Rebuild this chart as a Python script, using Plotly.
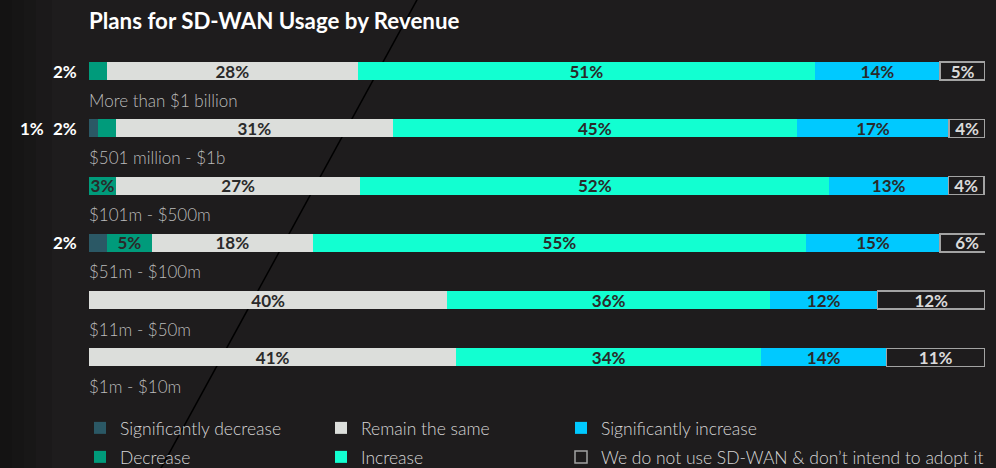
import plotly.graph_objects as go

categories = ["More than $1 billion", "$501 million - $1b", "$101m - $500m",
              "$51m - $100m", "$11m - $50m", "$1m - $10m"]
series_names = ["Significantly decrease", "Decrease", "Remain the same", "Increase",
                "Significantly increase", "We do not use SD-WAN & don\u2019t intend to adopt it"]
# shares in percent (labels show them rounded)
sig_decrease = [0, 1, 0, 2, 0, 0]
decrease = [2, 2, 3, 5, 0, 0]
remain = [28, 30.9, 27.3, 18, 40, 41]
increase = [51, 45.1, 52.3, 55, 36, 34]
sig_increase = [14, 17, 13.3, 15, 12, 14]
no_sdwan = [5, 4, 4, 6, 12, 11]

W, H = 996, 468
ML, MR, MT, MB = 40, 11, 31, 0
BAR_LEFT, BAR_RIGHT = 89, 985
ROW0, ROW_STEP = 71, 57.27
LEGEND_COLS = [80, 321, 561]
LEGEND_ROWS = [428, 457]
BG = "#1e1c1d"
FONT = "Lato"

colors = ["#2b5865", "#009b7b", "#dcdedb", "#12ffd1", "#00c9ff", BG]
all_values = [sig_decrease, decrease, remain, increase, sig_increase, no_sdwan]

plot_w = W - ML - MR
plot_h = H - MT - MB
units_per_px = 100 / (BAR_RIGHT - BAR_LEFT)
x_range = [-(BAR_LEFT - ML) * units_per_px, 100 + (W - MR - BAR_RIGHT) * units_per_px]
y_top = -(ROW0 - MT) / ROW_STEP
y_range = [y_top + plot_h / ROW_STEP, y_top]


def px_x(p):
    return (p - ML) / plot_w


def px_y(p):
    return (H - MB - p) / plot_h


def pct(v):
    return f"{round(v)}%"


fig = go.Figure()
legends = {}
for i, (name, vals) in enumerate(zip(series_names, all_values)):
    last = i == len(series_names) - 1
    legend_id = "legend" if i == 0 else f"legend{i + 1}"
    fig.add_trace(go.Bar(
        name=name, y=categories, x=vals, orientation="h",
        marker=dict(color=colors[i],
                    line=dict(color="#a3a3a3" if last else colors[i], width=1.5 if last else 0)),
        text=[pct(v) if v >= 3 else "" for v in vals],
        textposition="inside", insidetextanchor="middle", textangle=0,
        constraintext="none",
        insidetextfont=dict(family=FONT, size=17, weight=700,
                            color="#dadada" if last else "#2a2a2a"),
        legend=legend_id,
        hoverinfo="skip",
    ))
    # legend laid out in columns of two
    legends[legend_id] = dict(
        orientation="h", xanchor="left", yanchor="middle",
        x=px_x(LEGEND_COLS[i // 2]), y=px_y(LEGEND_ROWS[i % 2]),
        font=dict(family=FONT, size=17.5, weight=300, color="#d6d6d6"),
        bgcolor="rgba(0,0,0,0)")

annotations = []
# category labels under each bar
for c in categories:
    annotations.append(dict(x=0, y=c, xref="x", yref="y", text=c, showarrow=False,
                            xanchor="left", yanchor="middle", yshift=-29, xshift=-2,
                            font=dict(family=FONT, size=17, weight=300, color="#bbbbbb")))
# small values written left of the bar
for r, c in enumerate(categories):
    slot = 0
    for vals in [decrease, sig_decrease]:
        v = vals[r]
        if 0 < v < 3:
            annotations.append(dict(x=0, y=c, xref="x", yref="y", text=pct(v),
                                    showarrow=False, xanchor="right", yanchor="middle",
                                    xshift=-10 - 33 * slot,
                                    font=dict(family=FONT, size=17, weight=700, color="#ffffff")))
            slot += 1

shapes = []
# darker left edge
for k in [12, 24, 36, 52]:
    shapes.append(dict(type="rect", xref="paper", yref="paper", x0=px_x(0), x1=px_x(k),
                       y0=px_y(H), y1=px_y(0), fillcolor="#000000", opacity=0.08,
                       line=dict(width=0), layer="below"))
# decorative diagonal line
shapes.append(dict(type="line", xref="paper", yref="paper",
                   x0=px_x(418), y0=px_y(-2), x1=px_x(160), y1=px_y(470),
                   line=dict(color="#000000", width=1.5), layer="below"))

fig.update_layout(
    width=W, height=H,
    barmode="stack", bargap=0.686,
    paper_bgcolor=BG, plot_bgcolor=BG,
    margin=dict(l=ML, r=MR, t=MT, b=MB, autoexpand=False),
    title=dict(text="<b>Plans for SD-WAN Usage by Revenue</b>", x=BAR_LEFT / W, xanchor="left",
               xref="container", y=1 - 21 / H, yanchor="middle",
               font=dict(family=FONT, size=22.3, color="#ffffff")),
    xaxis=dict(range=x_range, visible=False, fixedrange=True),
    yaxis=dict(type="category", categoryarray=categories, range=y_range,
               visible=False, fixedrange=True),
    showlegend=True,
    annotations=annotations,
    shapes=shapes,
    **legends,
)

# drop the page's default body margin so the figure sits at the window's corner
fig.write_html("out.html", config={"displayModeBar": False},
               post_script="document.body.style.margin='0';document.body.style.background='%s';" % BG)
